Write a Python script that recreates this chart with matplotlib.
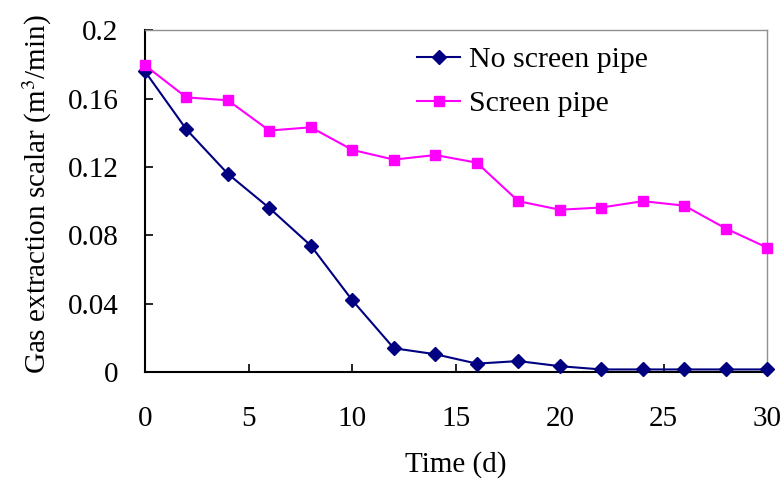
import matplotlib
matplotlib.use('Agg')
import matplotlib.pyplot as plt
from matplotlib import rcParams

# gas extraction per day, with and without screen pipe
days = [0, 2, 4, 6, 8, 10, 12, 14, 16, 18, 20, 22, 24, 26, 28, 30]
no_screen = [0.176, 0.142, 0.116, 0.096, 0.074, 0.042, 0.014, 0.0105, 0.005,
             0.0065, 0.0035, 0.0016, 0.0016, 0.0016, 0.0016, 0.0016]
screen = [0.1795, 0.1607, 0.159, 0.1413, 0.1432, 0.130, 0.1243, 0.127, 0.1225,
          0.100, 0.095, 0.0963, 0.100, 0.0974, 0.084, 0.0728]

xticks = [0, 5, 10, 15, 20, 25, 30]
yticks = [0, 0.04, 0.08, 0.12, 0.16, 0.2]
ytick_labels = ["0", "0.04", "0.08", "0.12", "0.16", "0.2"]

rcParams['font.family'] = 'Liberation Serif'
rcParams['mathtext.fontset'] = 'stix'
rcParams['font.size'] = 21

fig = plt.figure(figsize=(7.83, 4.79), dpi=100)
ax = fig.add_axes([0.185, 0.223, 0.795, 0.714])

ax.plot(days, no_screen, '-D', color='#000080', markersize=7, linewidth=1.5,
        label="No screen pipe", clip_on=False, zorder=3)
ax.plot(days, screen, '-s', color='#ff00ff', markersize=7.5, linewidth=1.5,
        label="Screen pipe", clip_on=False, zorder=3)

ax.set_xlim(0, 30)
ax.set_ylim(0, 0.2)
ax.set_xticks(xticks)
ax.set_yticks(yticks)
ax.set_yticklabels(ytick_labels)
ax.tick_params(direction='in', length=6, width=1.2, labelsize=21)
ax.tick_params(axis='y', pad=19)
ax.tick_params(axis='x', pad=24)

for side in ['left', 'bottom']:
    ax.spines[side].set_linewidth(1.5)
    ax.spines[side].set_color('black')
for side in ['top', 'right']:
    ax.spines[side].set_linewidth(1.0)
    ax.spines[side].set_color('#909090')

ax.set_xlabel("Time (d)", fontsize=21, labelpad=14)
ax.set_ylabel(r"Gas extraction scalar (m$^{3}$/min)", fontsize=21, labelpad=10)
ax.yaxis.label.set_y(0.52)

leg = ax.legend(loc='upper left', frameon=False, fontsize=21.5, handlelength=1.45,
                handletextpad=0.3, labelspacing=0.58, borderpad=0,
                borderaxespad=0, bbox_to_anchor=(0.437, 0.953))

fig.savefig("out.png", dpi=100)
